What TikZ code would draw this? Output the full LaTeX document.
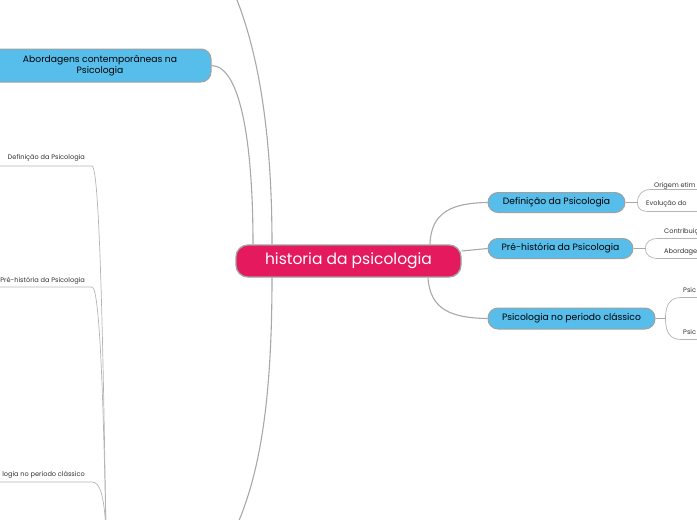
\documentclass[tikz,border=0pt]{standalone}
\usepackage{fontspec}
\setmainfont{Poppins}
\definecolor{rootpink}{HTML}{E5195D}
\definecolor{mainblue}{HTML}{57BEEC}
\definecolor{edgegray}{HTML}{A8A8A8}
\definecolor{bordergray}{HTML}{A0A0A0}
\definecolor{thingray}{HTML}{B4B4B4}
\begin{document}
\begin{tikzpicture}[x=1pt,y=-1pt,
  rootnode/.style={draw=bordergray,line width=1.3pt,fill=rootpink,text=white,rounded corners=12pt,
    minimum width=225pt,minimum height=32pt,inner sep=0pt,font=\fontsize{15.5}{17}\selectfont},
  topicnode/.style={draw=bordergray,line width=1pt,fill=mainblue,text=black,rounded corners=10pt,
    inner sep=0pt,font=\fontsize{9.2}{11}\selectfont},
  smalltext/.style={inner sep=0pt,text=black!80,font=\fontsize{6.6}{8}\selectfont},
  mainedge/.style={draw=edgegray,line width=1.1pt},
  subedge/.style={draw=thingray,line width=0.7pt}]
\useasboundingbox (0,0) rectangle (697,520);
\clip (0,0) rectangle (697,520);

% nodes
\node[rootnode] (cen) at (348.5,261) {historia da psicologia};
\node[topicnode,minimum width=222pt,minimum height=33pt,align=center] (abo) at (100,65.5)
  {Abordagens contemporâneas na\\Psicologia};
\node[topicnode,minimum width=137pt,minimum height=20pt] (def) at (556.5,202.5) {Definição da Psicologia};
\node[topicnode,minimum width=145pt,minimum height=20pt] (pre) at (560.5,248.5) {Pré-história da Psicologia};
\node[topicnode,minimum width=167pt,minimum height=21pt] (cla) at (571.5,318.5) {Psicologia no periodo clássico};

% free ends
\coordinate (topfree) at (232,-12);
\coordinate (botfree) at (234,532);
\coordinate (leftfree) at (106,530);

% main connectors
\draw[mainedge] (abo.east) .. controls (242,66) and ([xshift=-95.5pt]cen.north |- 0,150) .. ([xshift=-95.5pt]cen.north);
\draw[mainedge] ([xshift=-76.5pt]cen.north) .. controls (272,120) and (255,40) .. (topfree);
\draw[mainedge] ([xshift=-76.5pt]cen.south) .. controls (272,410) and (258,480) .. (botfree);
\draw[mainedge] ([xshift=81.5pt]cen.north) .. controls (431,212) and (452,203) .. (def.west);
\draw[mainedge] ([yshift=10pt]cen.east) .. controls (474,250) .. (pre.west);
\draw[mainedge] ([xshift=79.5pt]cen.south) .. controls (430,310) and (452,318) .. (cla.west);

% right sub-branches
\draw[mainedge] (def.east) -- ++(12,0) coordinate (db);
\draw[subedge] (db) .. controls +(0,-8) and +(-8,0) .. ++(13,-13) -- ++(80,0);
\draw[subedge] (db) .. controls +(0,8) and +(-8,0) .. ++(13,9) -- ++(80,0);
\draw[mainedge] (pre.east) -- ++(12,0) coordinate (pb);
\draw[subedge] (pb) .. controls +(0,-7) and +(-8,0) .. ++(13,-10) -- ++(80,0);
\draw[subedge] (pb) .. controls +(0,7) and +(-8,0) .. ++(13,10) -- ++(80,0);
\draw[mainedge] (cla.east) -- ++(10,0) coordinate (cb);
\draw[subedge] (cb) .. controls +(0,-16) and +(-10,0) .. ++(16,-21) -- ++(80,0);
\draw[subedge] (cb) .. controls +(0,16) and +(-10,0) .. ++(16,21) -- ++(80,0);

\node[smalltext,anchor=west] (t1) at (654,185.5) {Origem etim};
\node[smalltext,anchor=west] (t2) at (646,204) {Evolução do};
\node[smalltext,anchor=west] (t3) at (664,232) {Contribuiç};
\node[smalltext,anchor=west] (t4) at (664,252) {Abordage};
\node[smalltext,anchor=west] (t5) at (683,290) {Psic};
\node[smalltext,anchor=west] (t6) at (683,332) {Psic};

% left sub-branches
\node[smalltext,anchor=east] (l1) at (85,158) {Definição da Psicologia};
\node[smalltext,anchor=east] (l2) at (85,281) {Pré-história da Psicologia};
\node[smalltext,anchor=east] (l3) at (85,475) {logia no periodo clássico};
\coordinate (l1s) at (-5,166);
\coordinate (l2s) at (-5,287);
\coordinate (l3s) at (-5,482);
\draw[subedge] (l1s) -- (92,166) .. controls (101,166) and (104,420) .. (leftfree);
\draw[subedge] (l2s) -- (92,287) .. controls (101,287) and (104,440) .. (leftfree);
\draw[subedge] (l3s) -- (92,482) .. controls (100,482) and (104,495) .. (leftfree);
\end{tikzpicture}
\end{document}
